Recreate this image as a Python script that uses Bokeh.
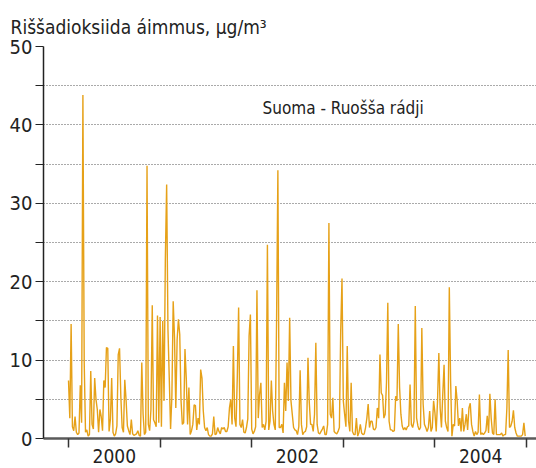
from bokeh.plotting import figure
from bokeh.models import FixedTicker, Range1d, Label
from bokeh.embed import file_html
from bokeh.resources import INLINE

years = [2000, 2001, 2002, 2003, 2004]

so2_2000 = [7.4, 2.6, 14.6, 1.5, 1.0, 2.8, 0.8, 0.5, 0.7, 6.8,
            2.0, 43.8, 9.7, 0.8, 1.1, 0.3, 0.5, 8.6, 1.8, 1.2,
            7.7, 5.0, 3.7, 0.8, 3.7, 2.8, 1.0, 7.4, 6.5, 11.6,
            11.5, 0.9, 2.4, 7.7, 0.8, 0.3, 0.6, 1.6, 10.7, 11.5,
            5.3, 1.4, 0.8, 7.5, 4.9, 1.6, 1.0, 0.5, 2.4, 0.6,
            0.4, 0.5, 0.6, 1.0, 0.4, 0.3, 9.7, 3.1, 0.5, 0.8,
            34.8, 1.8, 1.0, 3.7, 17.0, 2.4, 2.0, 1.5, 15.7, 2.0]

so2_2001 = [15.5, 1.5, 15.0, 4.8, 22.9, 32.4, 13.9, 7.7, 1.2, 5.4,
            17.5, 12.9, 3.9, 12.6, 15.2, 13.3, 4.8, 1.8, 2.0, 11.4,
            7.7, 1.8, 6.5, 0.5, 1.0, 1.8, 4.3, 4.2, 1.1, 2.6,
            1.8, 8.8, 7.7, 3.5, 1.4, 1.0, 1.4, 0.5, 0.3, 0.3,
            0.6, 2.8, 0.5, 0.6, 1.4, 0.9, 0.6, 1.4, 1.2, 1.4,
            0.9, 0.9, 1.5, 3.9, 5.0, 1.8, 11.8, 2.6, 1.5, 8.0,
            16.7, 1.8, 1.4, 2.4, 0.8, 0.7, 1.4, 2.5, 13.1, 15.8]

so2_2002 = [1.2, 0.6, 0.9, 1.5, 18.9, 2.6, 5.6, 7.1, 1.4, 1.8,
            1.1, 2.2, 24.7, 1.1, 2.2, 7.4, 3.5, 1.8, 1.1, 15.0,
            34.2, 1.4, 1.4, 1.8, 0.7, 7.1, 3.5, 9.7, 4.8, 15.4,
            4.8, 3.1, 1.4, 1.1, 1.0, 0.5, 1.5, 8.7, 1.8, 0.5,
            0.8, 0.9, 1.5, 10.3, 4.6, 1.8, 1.8, 0.9, 3.1, 12.2,
            1.8, 0.7, 0.6, 0.9, 1.2, 1.6, 0.5, 0.5, 1.8, 27.5,
            3.1, 2.6, 5.2, 0.9, 0.7, 0.6, 0.9, 1.4, 13.7, 20.4]

so2_2003 = [4.8, 3.1, 1.5, 11.8, 2.2, 0.9, 7.1, 0.9, 0.5, 0.5,
            2.6, 0.3, 0.8, 1.8, 0.7, 0.5, 0.6, 1.4, 2.6, 4.4,
            1.4, 2.2, 2.2, 1.2, 1.1, 1.4, 3.9, 2.6, 10.7, 5.8,
            5.5, 2.6, 3.1, 7.1, 17.3, 2.2, 1.1, 1.1, 0.9, 1.0,
            5.4, 4.8, 14.6, 6.5, 3.1, 1.6, 1.1, 1.4, 1.1, 1.5,
            1.6, 6.9, 1.8, 1.4, 2.2, 16.9, 2.6, 1.6, 1.1, 1.4,
            14.1, 4.4, 1.8, 1.4, 0.9, 1.4, 3.5, 0.9, 1.4, 4.8]

so2_2004 = [3.3, 0.9, 4.8, 10.9, 3.9, 1.4, 5.6, 9.4, 2.2, 1.4,
            0.9, 19.3, 7.3, 0.3, 1.8, 1.6, 6.7, 4.8, 1.6, 2.6,
            0.9, 3.9, 0.9, 1.8, 3.1, 1.1, 3.9, 4.5, 1.8, 0.9,
            0.3, 0.9, 0.5, 0.8, 5.6, 0.5, 0.7, 0.5, 0.7, 1.0,
            2.9, 0.7, 5.7, 2.6, 0.7, 0.5, 5.0, 0.5, 0.5, 0.5,
            0.5, 0.7, 0.3, 0.5, 0.5, 3.9, 11.3, 1.4, 1.6, 2.2,
            3.6, 1.4, 0.7, 0.3, 0.3, 0.3, 0.3, 0.5, 2.0, 0.3]

series = [so2_2000, so2_2001, so2_2002, so2_2003, so2_2004]

y_major = [0, 10, 20, 30, 40, 50]
y_minor = [5, 15, 25, 35, 45]
year_bounds = [2000, 2001, 2002, 2003, 2004, 2005]
year_label_pos = [2000.5, 2002.5, 2004.5]
year_labels = ["2000", "2002", "2004"]

title_text = "Riššadioksiida áimmus, μg/m³"
station_text = "Suoma - Ruošša rádji"

xs, ys = [], []
for yr, vals in zip(years, series):
    n = len(vals)
    for k, v in enumerate(vals):
        xs.append(yr + k / n)
        ys.append(v)

FONT = "DejaVu Sans Condensed"
TXT = "#222222"

p = figure(width=536, height=468, output_backend="svg", toolbar_location=None,
           x_range=Range1d(1999.727, 2005.109), y_range=Range1d(0, 50),
           min_border_left=43, min_border_right=0, min_border_top=46,
           min_border_bottom=30)
p.outline_line_color = None
p.background_fill_color = "white"

p.title.text = title_text
p.title.align = "left"
p.title.offset = -33
p.title.standoff = 17
p.title.text_font = FONT
p.title.text_font_size = "19px"
p.title.text_font_style = "normal"
p.title.text_color = TXT

p.line(xs, ys, line_color="#E6A118", line_width=1.4)

# y axis
p.yaxis.ticker = FixedTicker(ticks=y_major, minor_ticks=y_minor)
p.yaxis.major_tick_out = 8
p.yaxis.major_tick_in = 0
p.yaxis.minor_tick_out = 8
p.yaxis.minor_tick_in = 0
p.yaxis.major_tick_line_color = "#222222"
p.yaxis.minor_tick_line_color = "#222222"
p.yaxis.axis_line_color = "#222222"
p.yaxis.axis_line_width = 1.5
p.yaxis.major_label_standoff = 3
p.yaxis.major_label_text_font = FONT
p.yaxis.major_label_text_font_size = "20px"
p.yaxis.major_label_text_color = TXT

# x axis
p.xaxis.ticker = FixedTicker(ticks=year_label_pos, minor_ticks=year_bounds)
p.xaxis.major_label_overrides = {pos: lab for pos, lab in zip(year_label_pos, year_labels)}
p.xaxis.major_tick_out = 0
p.xaxis.major_tick_in = 0
p.xaxis.minor_tick_out = 9
p.xaxis.minor_tick_in = 0
p.xaxis.minor_tick_line_color = "#333333"
p.xaxis.minor_tick_line_width = 1.5
p.xaxis.axis_line_color = "#5a5a5a"
p.xaxis.axis_line_width = 2.5
p.xaxis.major_label_standoff = 1
p.xaxis.major_label_text_font = FONT
p.xaxis.major_label_text_font_size = "19px"
p.xaxis.major_label_text_color = TXT

# grids
p.xgrid.grid_line_color = None
p.ygrid.ticker = FixedTicker(ticks=y_major, minor_ticks=y_minor)
p.ygrid.grid_line_color = "#555555"
p.ygrid.grid_line_dash = "1 2"
p.ygrid.grid_line_width = 1
p.ygrid.minor_grid_line_color = "#555555"
p.ygrid.minor_grid_line_dash = "1 2"
p.ygrid.minor_grid_line_width = 1

p.add_layout(Label(x=2002.118, y=42.2, text=station_text, text_font=FONT,
                   text_font_size="17px", text_color=TXT, text_baseline="alphabetic"))

open("out.html", "w").write(file_html(p, INLINE))
